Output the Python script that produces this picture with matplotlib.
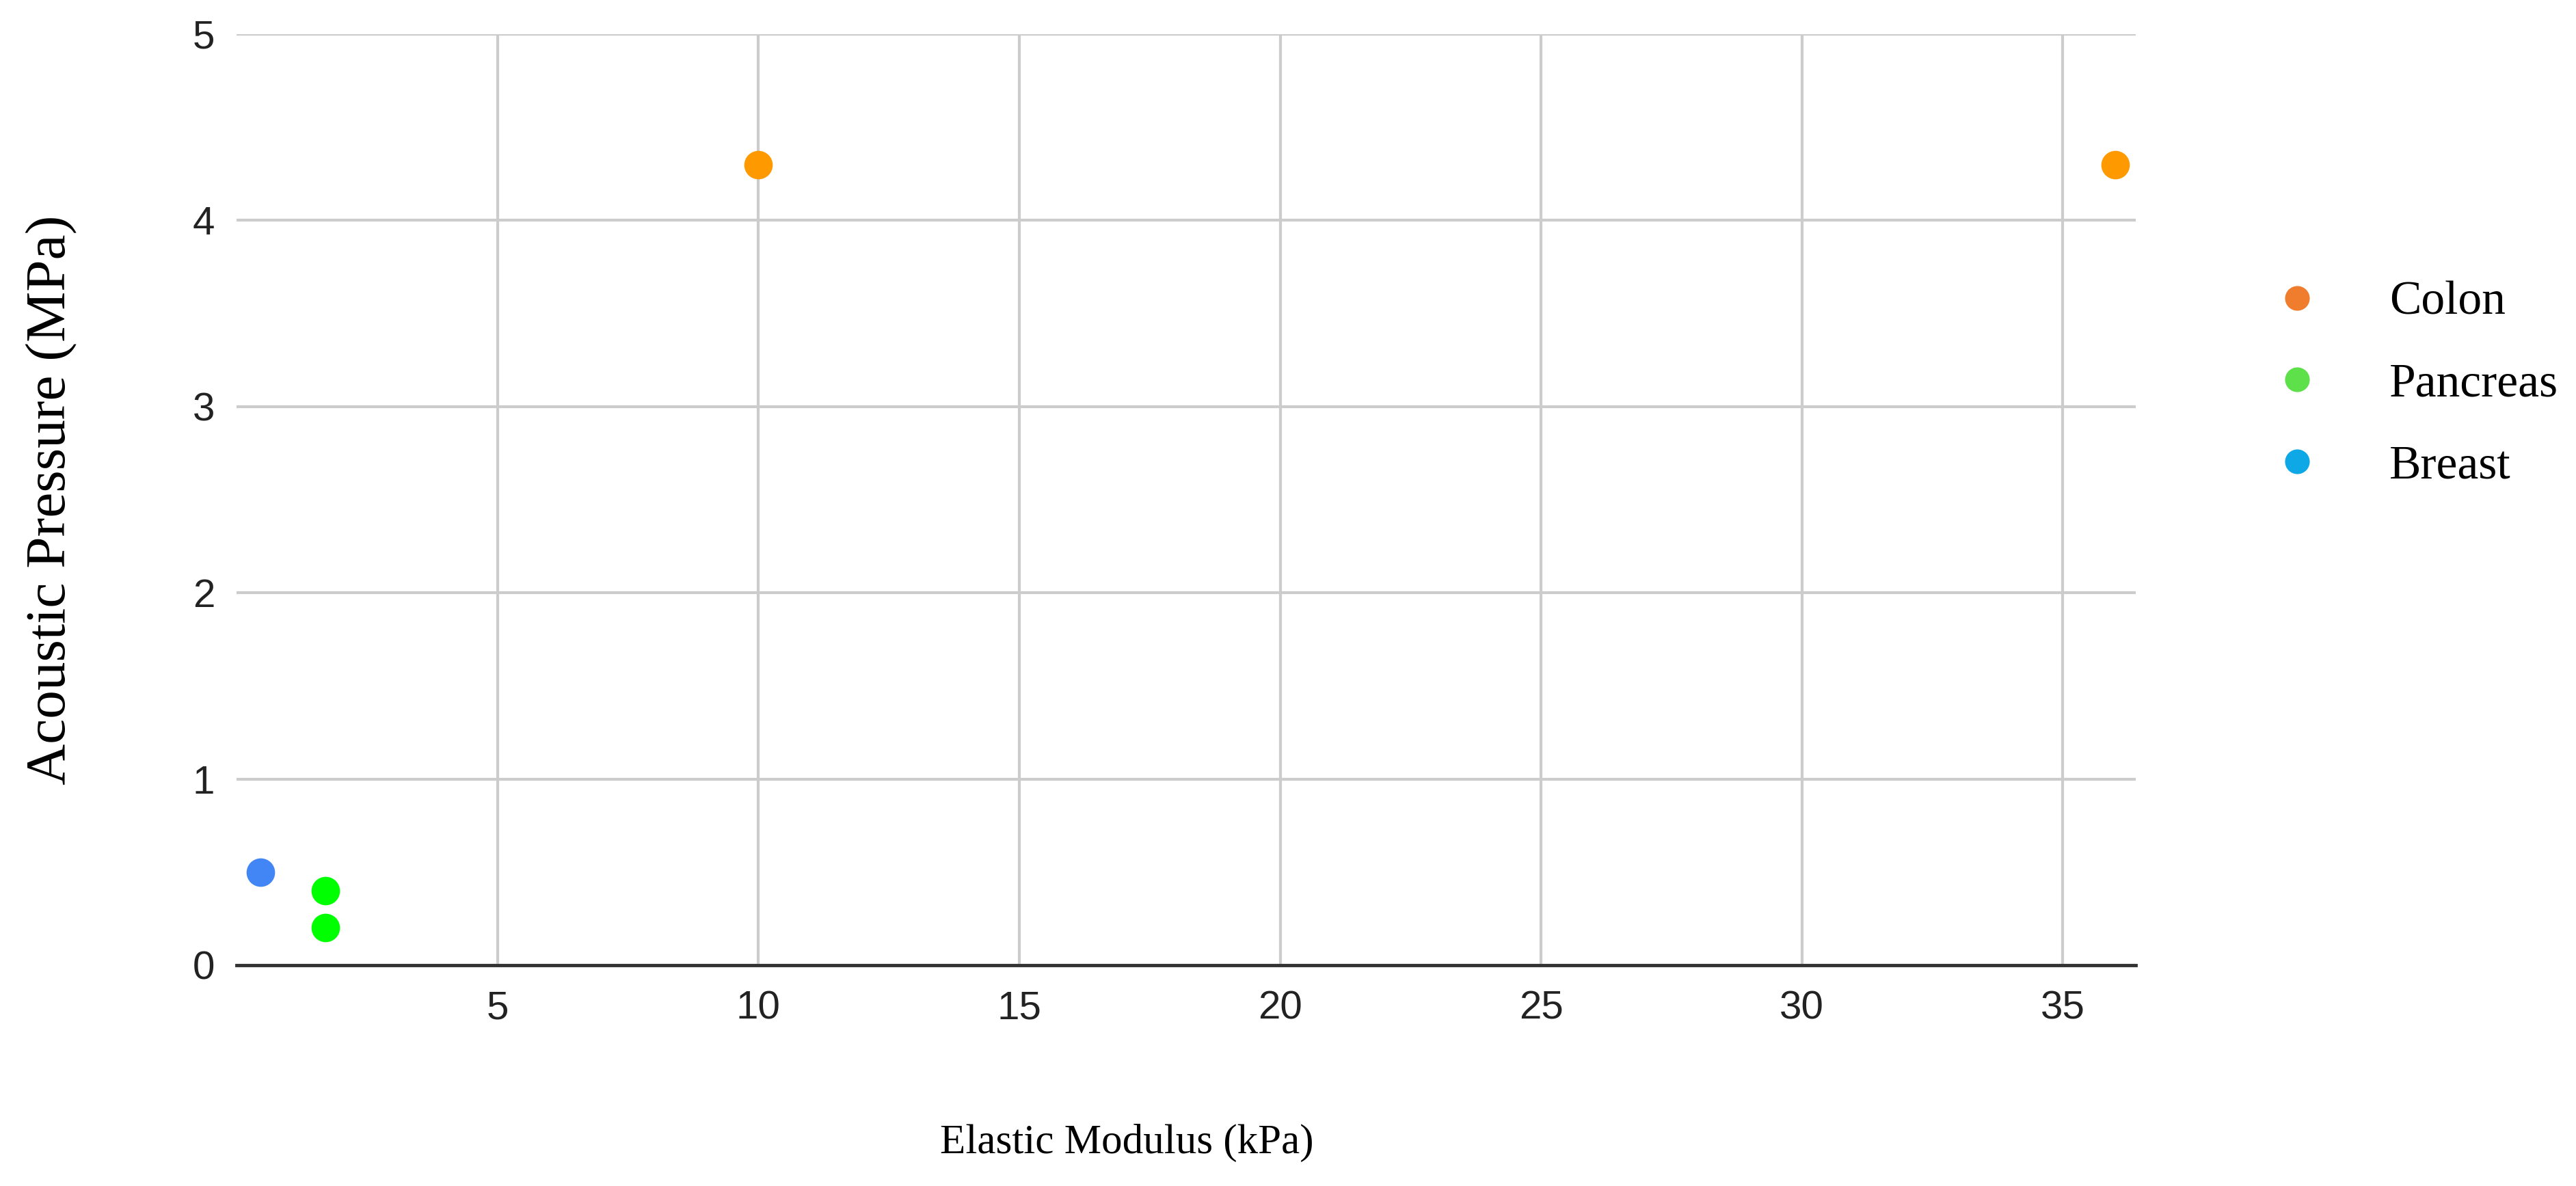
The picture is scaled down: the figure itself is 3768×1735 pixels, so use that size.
import matplotlib
matplotlib.use('Agg')
import matplotlib.pyplot as plt
from matplotlib.lines import Line2D

# Data
tissues = ['Colon', 'Pancreas', 'Breast']
colon_x = [10, 36]
colon_y = [4.3, 4.3]
pancreas_x = [1.7, 1.7]
pancreas_y = [0.4, 0.2]
breast_x = [0.45]
breast_y = [0.5]

point_colors = ['#FF9900', '#00FF00', '#4285F4']
legend_colors = ['#F07C2E', '#5EE04A', '#0FA8E6']

x_ticks = [5, 10, 15, 20, 25, 30, 35]
y_ticks = [0, 1, 2, 3, 4, 5]

fig = plt.figure(figsize=(37.68, 17.35), dpi=100)
ax = fig.add_axes([0.0919, 0.1862, 0.8291 - 0.0919, 0.9712 - 0.1862])

series = [(colon_x, colon_y), (pancreas_x, pancreas_y), (breast_x, breast_y)]
for (xs, ys), name, c in zip(series, tissues, point_colors):
    ax.plot(xs, ys, linestyle='none', marker='o', markersize=30,
            markerfacecolor=c, markeredgewidth=0, label=name, zorder=3)

ax.set_xlim(0, 36.4)
ax.set_ylim(0, 5)
ax.set_xticks(x_ticks)
ax.set_yticks(y_ticks)
ax.grid(True, color='#cccccc', linewidth=3)
ax.set_axisbelow(True)
for side in ['top', 'right', 'left']:
    ax.spines[side].set_visible(False)
ax.spines['bottom'].set_color('#333333')
ax.spines['bottom'].set_linewidth(3.5)
ax.spines['bottom'].set_zorder(4)

ax.tick_params(axis='both', length=0, labelsize=42, colors='#222222')
ax.tick_params(axis='x', pad=26)
ax.tick_params(axis='y', pad=23)
for lbl in ax.get_xticklabels() + ax.get_yticklabels():
    lbl.set_family('Liberation Sans')

ax.set_xlabel('Elastic Modulus (kPa)', family='Liberation Serif', fontsize=44)
ax.xaxis.set_label_coords(0.4687, -0.17)
ax.set_ylabel('Acoustic Pressure (MPa)', family='Liberation Serif', fontsize=60)
ax.yaxis.set_label_coords(-0.084, 0.5)

handles = [Line2D([0], [0], linestyle='none', marker='o', markersize=26,
                  markerfacecolor=c, markeredgewidth=0) for c in legend_colors]
fig.legend(handles, tissues, loc='upper left', bbox_to_anchor=(0.8824, 0.763),
           frameon=False, handlelength=1.0, handletextpad=1.45, labelspacing=0.81,
           borderpad=0, borderaxespad=0,
           prop={'family': 'Liberation Serif', 'size': 50})

fig.savefig('out.png', dpi=100)
